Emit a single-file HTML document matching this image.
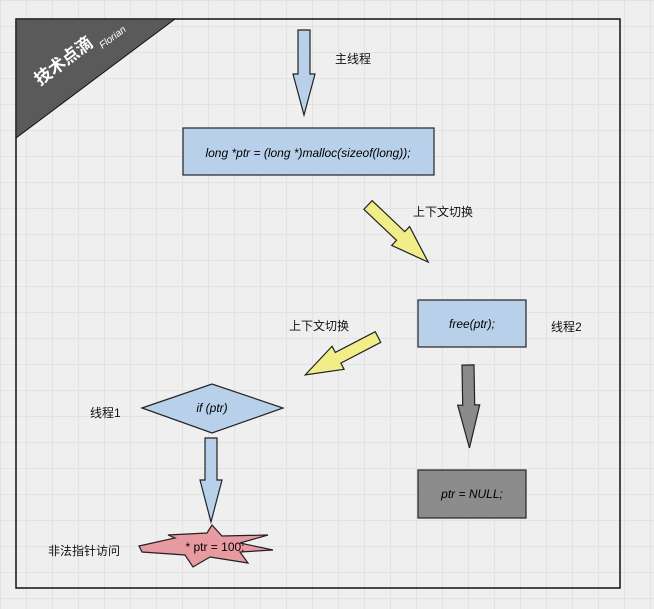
<!DOCTYPE html>
<html><head><meta charset="utf-8"><style>
html,body{margin:0;padding:0;}
body{width:654px;height:609px;overflow:hidden;background-color:#efefef;
background-image:linear-gradient(#e2e2e2 1px,transparent 1px),linear-gradient(90deg,#e2e2e2 1px,transparent 1px);
background-size:26px 26px;background-position:0 0;}
svg{position:absolute;left:0;top:0;}
text{font-family:"Liberation Sans","Noto Sans CJK SC",sans-serif;}
</style></head><body>
<svg width="654" height="609" viewBox="0 0 654 609">
<rect x="16" y="19" width="604" height="569" fill="none" stroke="#111" stroke-width="1.5"/>
<polygon points="16,19 175,19 16,138" fill="#5a5a5a" stroke="#111" stroke-width="1"/>
<g transform="translate(40,86) rotate(-37)">
<text x="0" y="0" fill="#fff" font-size="17" font-weight="bold">技术点滴</text>
<text x="72" y="8" fill="#fff" font-size="10" font-style="italic">Florian</text>
</g>

<!-- arrows -->
<g stroke="#222" stroke-width="1.2">
<g transform="translate(304,30) rotate(90)"><polygon points="0,-6 44,-6 44,-11 85,0 44,11 44,6 0,6" fill="#b8d0ea"/></g>
<g transform="translate(368,205) rotate(43.5)"><polygon points="0,-6 45,-6 45,-13 83,0 45,13 45,6 0,6" fill="#f1ee8a"/></g>
<g transform="translate(378,337) rotate(152.5)"><polygon points="0,-6 45,-6 45,-13 82,0 45,13 45,6 0,6" fill="#f1ee8a"/></g>
<g transform="translate(211,438) rotate(90)"><polygon points="0,-6 42,-6 42,-11 84,0 42,11 42,6 0,6" fill="#b8d0ea"/></g>
<g transform="translate(468,365) rotate(89)"><polygon points="0,-6 40,-6 40,-11 83,0 40,11 40,6 0,6" fill="#8a8a8a"/></g>
</g>

<!-- boxes -->
<rect x="183" y="128" width="251" height="47" fill="#b8d0ea" stroke="#222" stroke-width="1.2"/>
<text x="308" y="157" font-size="12" text-anchor="middle" font-style="italic">long *ptr = (long *)malloc(sizeof(long));</text>
<rect x="418" y="300" width="108" height="47" fill="#b8d0ea" stroke="#222" stroke-width="1.2"/>
<text x="472" y="328" font-size="12" text-anchor="middle" font-style="italic">free(ptr);</text>
<rect x="418" y="470" width="108" height="48" fill="#8c8c8c" stroke="#222" stroke-width="1.2"/>
<text x="472" y="498" font-size="12" text-anchor="middle" font-style="italic">ptr = NULL;</text>
<polygon points="142,408 212,384 283,408 212,433" fill="#b8d0ea" stroke="#222" stroke-width="1.2"/>
<text x="212" y="412" font-size="12" text-anchor="middle" font-style="italic">if (ptr)</text>
<polygon points="139,546 175,538 168,535 207,533 212,525 222,536 268,535 240,543 273,550 240,552 248,563 210,557 193,567 185,555 142,552" fill="#e79aa0" stroke="#222" stroke-width="1.2"/>
<text x="215" y="551" font-size="12" text-anchor="middle">* ptr = 100;</text>

<!-- labels -->
<g font-size="12" fill="#111">
<text x="335" y="63">主线程</text>
<text x="413" y="216">上下文切换</text>
<text x="289" y="330">上下文切换</text>
<text x="551" y="331">线程2</text>
<text x="90" y="417">线程1</text>
<text x="48" y="555">非法指针访问</text>
</g>
</svg>
</body></html>
